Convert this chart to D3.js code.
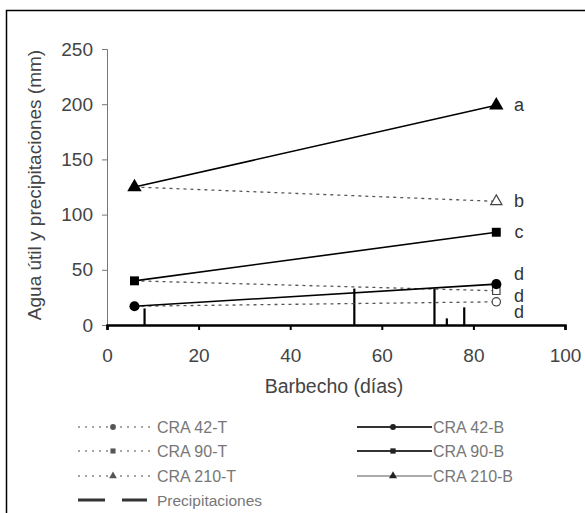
<!DOCTYPE html>
<html><head><meta charset="utf-8">
<script src="https://cdn.jsdelivr.net/npm/d3@7"></script>
<style>body{margin:0;background:#fff}svg{display:block}</style>
</head><body>
<svg id="c" width="585" height="513"></svg>
<script>
const days = [6, 85];
const cra42T = [17, 21];
const cra90T = [40, 31];
const cra210T = [125, 112];
const cra42B = [17, 37];
const cra90B = [40, 84];
const cra210B = [125, 199];
const letters = ["a", "b", "c", "d", "d", "d"];
const letterVals = [199, 112, 84, 46, 26, 12];
const rainDays = [8.2, 54, 71.5, 74.2, 78];
const rainMm = [15, 33, 33, 6, 16];
const xTicks = [0, 20, 40, 60, 80, 100];
const yTicks = [0, 50, 100, 150, 200, 250];

const svg = d3.select("#c");
const font = "'Liberation Sans', Arial, sans-serif";
svg.append("rect").attr("x", 6.5).attr("y", 10.5).attr("width", 700).attr("height", 700)
  .attr("fill", "none").attr("stroke", "#000").attr("stroke-width", 1.5);

const x = d3.scaleLinear().domain([0, 100]).range([107, 565]);
const y = d3.scaleLinear().domain([0, 250]).range([325, 49]);

// y axis
const ya = svg.append("g").attr("transform", "translate(107,0)")
  .call(d3.axisLeft(y).tickValues(yTicks).tickSize(5).tickPadding(9));
ya.select(".domain").attr("stroke", "#777").attr("stroke-width", 1);
ya.selectAll(".tick line").attr("stroke", "#777");
ya.selectAll("text").attr("font-family", font).attr("font-size", 19).attr("fill", "#444");

// x axis
const xa = svg.append("g").attr("transform", "translate(0,325)")
  .call(d3.axisBottom(x).tickValues(xTicks).tickSize(5).tickPadding(19));
xa.select(".domain").attr("stroke", "#000").attr("stroke-width", 2.5);
xa.selectAll(".tick line").attr("stroke", "#000").attr("stroke-width", 2);
xa.selectAll("text").attr("font-family", font).attr("font-size", 19).attr("fill", "#444");

svg.append("text").attr("x", 334).attr("y", 393).attr("text-anchor", "middle")
  .attr("font-family", font).attr("font-size", 19.5).attr("fill", "#444").text("Barbecho (días)");
svg.append("text").attr("transform", "translate(41,185) rotate(-90)").attr("text-anchor", "middle")
  .attr("font-family", font).attr("font-size", 19).attr("fill", "#444").text("Agua útil y precipitaciones (mm)");

// precipitation bars
svg.append("g").selectAll("line").data(rainDays).join("line")
  .attr("x1", d => x(d)).attr("x2", d => x(d))
  .attr("y1", y(0)).attr("y2", (d, i) => y(rainMm[i]))
  .attr("stroke", "#000").attr("stroke-width", 2.2);

const line = d3.line().x((d, i) => x(days[i])).y(d => y(d));
const dashed = [cra42T, cra90T, cra210T];
const solid = [cra42B, cra90B, cra210B];
svg.append("g").selectAll("path").data(dashed).join("path")
  .attr("d", line).attr("fill", "none").attr("stroke", "#555").attr("stroke-width", 1.3)
  .attr("stroke-dasharray", "3,4");
svg.append("g").selectAll("path").data(solid).join("path")
  .attr("d", line).attr("fill", "none").attr("stroke", "#000").attr("stroke-width", 1.6);

const shapes = [d3.symbolCircle, d3.symbolSquare, d3.symbolTriangle];
// open markers (T series end)
svg.append("g").selectAll("path").data(dashed).join("path")
  .attr("transform", (d, i) => `translate(${x(days[1])},${y(d[1])})`)
  .attr("d", (d, i) => d3.symbol(shapes[i], 55)())
  .attr("fill", "#fff").attr("stroke", "#444").attr("stroke-width", 1.2);
// filled markers (B series)
solid.forEach((s, k) => {
  svg.append("g").selectAll("path").data(s).join("path")
    .attr("transform", (d, i) => `translate(${x(days[i])},${y(d)})`)
    .attr("d", d3.symbol(shapes[k], k === 2 ? 90 : 80)())
    .attr("fill", "#000");
});

// letters
svg.append("g").selectAll("text").data(letters).join("text")
  .attr("x", 519).attr("y", (d, i) => y(letterVals[i]) + 6)
  .attr("text-anchor", "middle").attr("font-family", font).attr("font-size", 18).attr("fill", "#333")
  .text(d => d);

// legend
const legL = [
  {name: "CRA 42-T", shape: 0}, {name: "CRA 90-T", shape: 1}, {name: "CRA 210-T", shape: 2}];
const legR = [
  {name: "CRA 42-B", shape: 0, col: "#000"}, {name: "CRA 90-B", shape: 1, col: "#000"}, {name: "CRA 210-B", shape: 2, col: "#999"}];
const rowY = [427, 451, 476, 500];
const lg = svg.append("g").attr("font-family", font).attr("font-size", 16).attr("fill", "#777");
legL.forEach((d, i) => {
  lg.append("line").attr("x1", 78).attr("x2", 155).attr("y1", rowY[i]).attr("y2", rowY[i])
    .attr("stroke", "#888").attr("stroke-width", 1.6).attr("stroke-dasharray", "2,5");
  lg.append("path").attr("transform", `translate(113,${rowY[i]})`)
    .attr("d", d3.symbol(shapes[d.shape], 26)()).attr("fill", "#555");
  lg.append("text").attr("x", 157).attr("y", rowY[i] + 6).text(d.name);
});
legR.forEach((d, i) => {
  lg.append("line").attr("x1", 357).attr("x2", 432).attr("y1", rowY[i]).attr("y2", rowY[i])
    .attr("stroke", d.col === "#000" ? "#333" : "#aaa").attr("stroke-width", 1.8);
  lg.append("path").attr("transform", `translate(393,${rowY[i]})`)
    .attr("d", d3.symbol(shapes[d.shape], 28)()).attr("fill", "#222");
  lg.append("text").attr("x", 433).attr("y", rowY[i] + 6).text(d.name);
});
lg.append("line").attr("x1", 78).attr("x2", 147).attr("y1", rowY[3]).attr("y2", rowY[3])
  .attr("stroke", "#333").attr("stroke-width", 3).attr("stroke-dasharray", "27,17");
lg.append("text").attr("x", 157).attr("y", rowY[3] + 6).attr("font-size", 15.5).text("Precipitaciones");
</script>
</body></html>
